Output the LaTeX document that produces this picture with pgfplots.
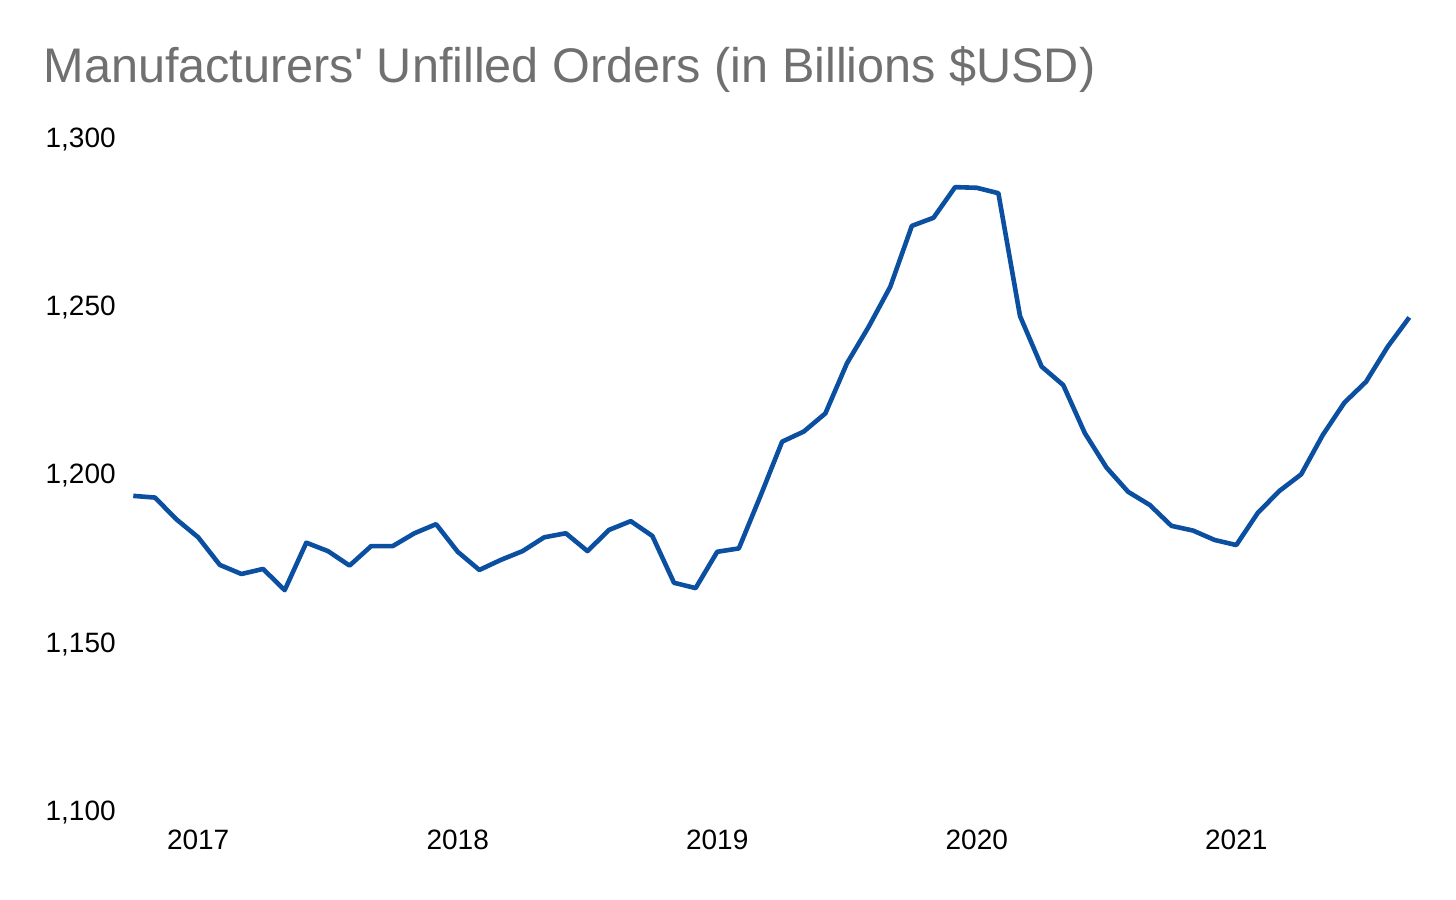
\documentclass[border=0pt]{standalone}
\usepackage{fontspec}
\setmainfont{Liberation Sans}
\usepackage{pgfplots}
\pgfplotsset{compat=1.18}
\definecolor{lineblue}{RGB}{11,79,161}
\definecolor{titlegray}{RGB}{112,112,112}
\pgfplotstableread{
idx val
0 1193.5
1 1193.0
2 1186.5
3 1181.2
4 1173.0
5 1170.3
6 1171.8
7 1165.5
8 1179.6
9 1177.1
10 1172.8
11 1178.6
12 1178.6
13 1182.4
14 1185.1
15 1176.9
16 1171.5
17 1174.5
18 1177.1
19 1181.2
20 1182.4
21 1177.1
22 1183.4
23 1186.0
24 1181.6
25 1167.7
26 1166.1
27 1176.9
28 1177.9
29 1193.5
30 1209.6
31 1212.6
32 1218.0
33 1232.9
34 1243.7
35 1255.6
36 1273.7
37 1276.1
38 1285.2
39 1285.0
40 1283.4
41 1246.9
42 1231.9
43 1226.4
44 1212.1
45 1201.9
46 1194.7
47 1190.8
48 1184.6
49 1183.2
50 1180.4
51 1178.9
52 1188.5
53 1195.0
54 1199.9
55 1211.6
56 1221.2
57 1227.4
58 1237.8
59 1246.5
}\datatable
\begin{document}
\begin{tikzpicture}
\path[use as bounding box] (0,0) rectangle (728bp,450bp);
\node[anchor=base west, inner sep=0pt, font=\fontsize{24.3bp}{28bp}\selectfont, text=titlegray] at (21.6bp,408.5bp) {Manufacturers\textquotesingle\ Unfilled Orders (in Billions \$USD)};
\begin{axis}[
  at={(66.65bp,44.65bp)}, anchor=south west,
  scale only axis, width=638bp, height=336.7bp,
  xmin=0, xmax=59, ymin=1100, ymax=1300,
  axis line style={draw=none},
  major tick length=0pt,
  xtick={3,15,27,39,51},
  xticklabels={2017,2018,2019,2020,2021},
  ytick={1100,1150,1200,1250,1300},
  yticklabels={{1,100},{1,150},{1,200},{1,250},{1,300}},
  yticklabel style={font=\fontsize{14bp}{16bp}\selectfont, anchor=base east, inner sep=0pt, xshift=-8.6bp, yshift=-5bp},
  xticklabel style={font=\fontsize{14bp}{16bp}\selectfont, anchor=north, inner sep=0pt, yshift=-9.6bp},
  clip=false,
]
\addplot[lineblue, line width=2.3bp, line join=round] table[x=idx, y=val] {\datatable};
\end{axis}
\end{tikzpicture}
\end{document}
